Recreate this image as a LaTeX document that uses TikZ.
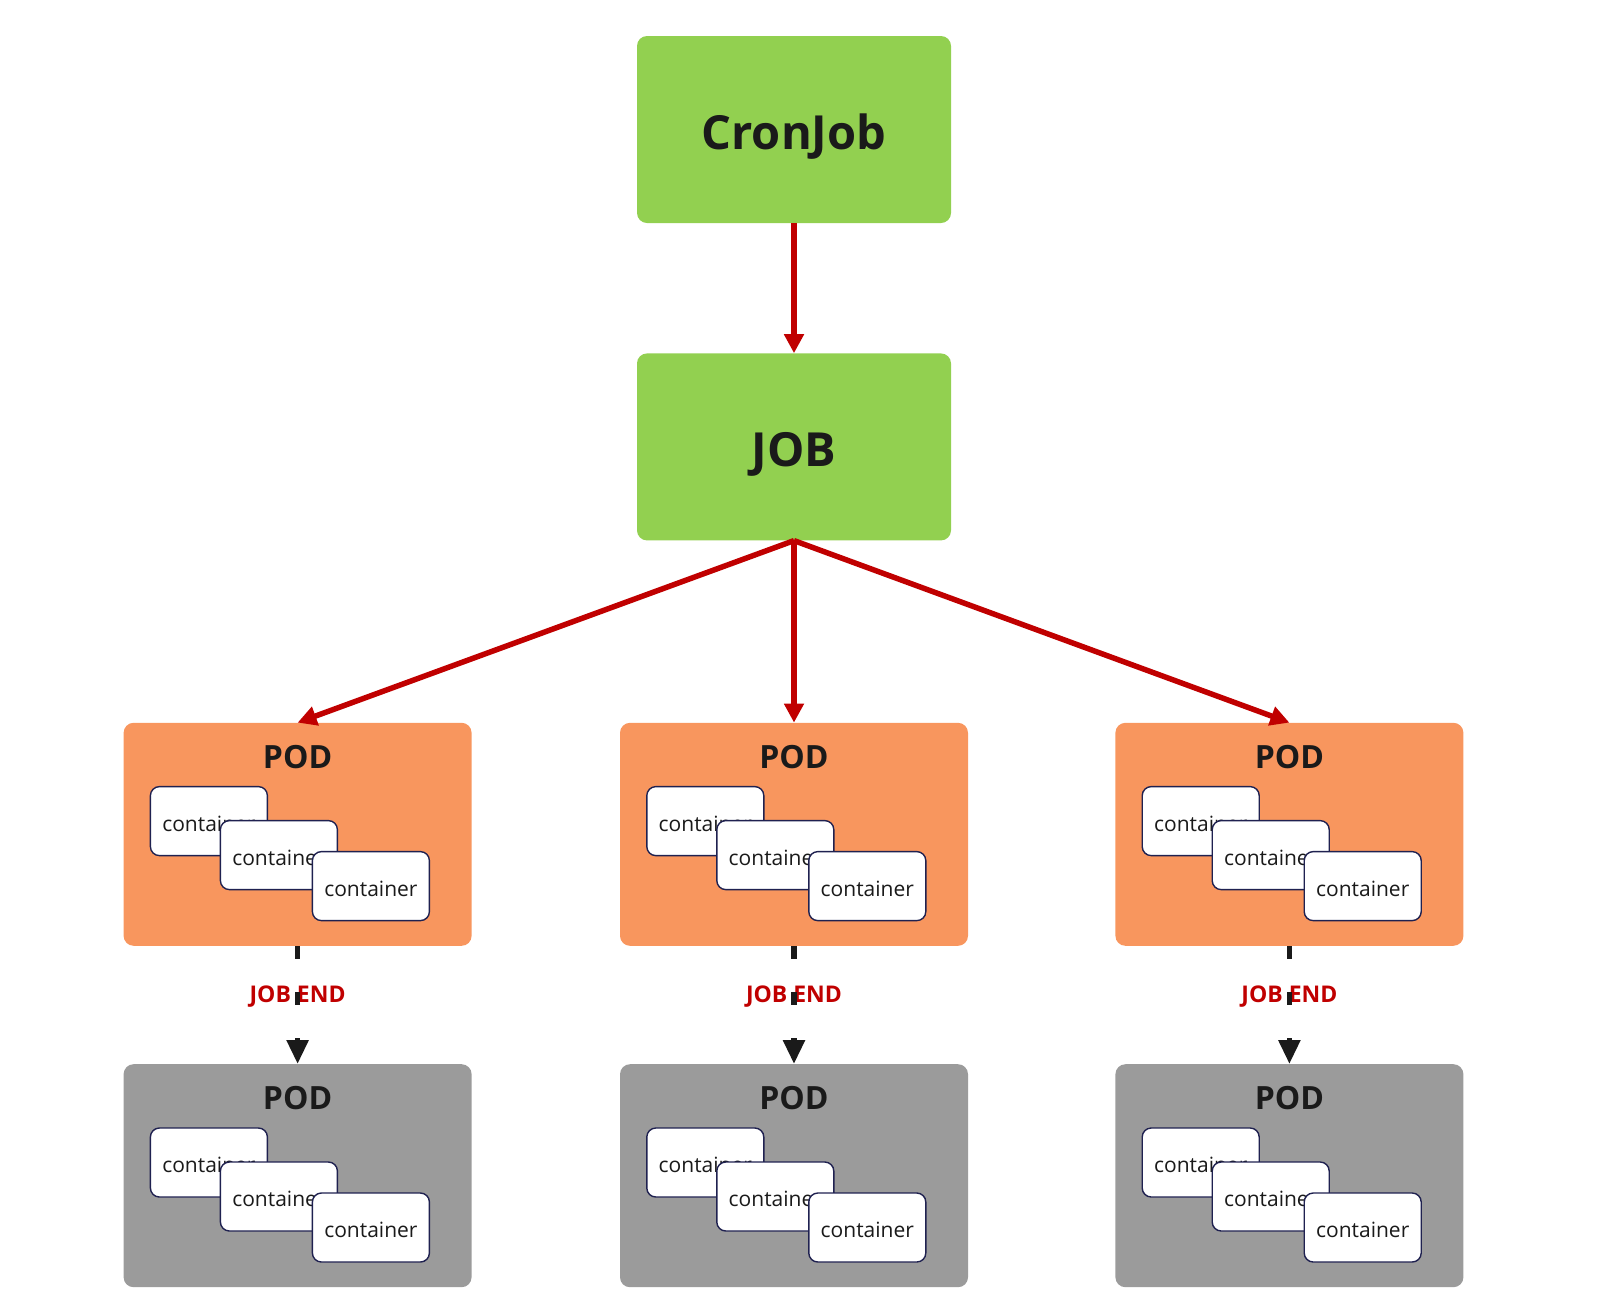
\documentclass[tikz,border=0pt]{standalone}
\usepackage{fontspec}
\setmainfont{Open Sans}
\usetikzlibrary{positioning}
\usetikzlibrary{arrows.meta}

\definecolor{jobgreen}{HTML}{92D050}
\definecolor{podorange}{HTML}{F8965E}
\definecolor{podgray}{HTML}{9B9B9B}
\definecolor{jobred}{HTML}{C00000}
\definecolor{inkdark}{HTML}{1A1A1A}
\definecolor{ctrline}{HTML}{1F2150}

\tikzset{
  bigbox/.style={rounded corners=10pt,fill=jobgreen,minimum width=314pt,minimum height=187pt,inner sep=0pt,
    text height=40pt,text depth=0pt,text=inkdark,font=\fontsize{47}{56}\selectfont\bfseries},
  podbox/.style={rounded corners=10pt,fill=podorange,minimum width=348pt,minimum height=223pt,inner sep=0pt},
  donebox/.style={podbox,fill=podgray},
  podtitle/.style={inner sep=0pt,text=inkdark,font=\fontsize{32}{38}\selectfont\bfseries},
  ctr/.style={draw=ctrline,line width=1.4pt,fill=white,rounded corners=9pt,minimum width=117pt,minimum height=69pt,
    inner sep=0pt,text height=20pt,text depth=0pt,text=inkdark,font=\fontsize{21}{25}\selectfont},
  spawn/.style={draw=jobred,line width=5.5pt,-{Triangle[length=19pt,width=19pt]}},
  endline/.style={draw=inkdark,line width=5.5pt,dash pattern=on 13pt off 33pt,-{Triangle[length=24pt,width=21pt]}},
  endlabel/.style={inner sep=0pt,text=jobred,font=\fontsize{23}{27}\selectfont\bfseries}
}

\begin{document}
\begin{tikzpicture}[x=1pt,y=1pt]
  \useasboundingbox (0,0) rectangle (1606,-1310);

  \node[bigbox] (cron) at (794,-129.5) {CronJob};
  \node[bigbox,below=130pt of cron] (job) {JOB};

  \node[podbox,below=182pt of job] (pod2) {};
  \node[podbox,left=148pt of pod2] (pod1) {};
  \node[podbox,right=147pt of pod2] (pod3) {};

  \node[donebox,below=118pt of pod1] (end1) {};
  \node[donebox,below=118pt of pod2] (end2) {};
  \node[donebox,below=118pt of pod3] (end3) {};

  % pod contents
  \foreach \p in {pod1,pod2,pod3,end1,end2,end3} {
    \node[podtitle] (\p t) at ([yshift=-34pt]\p.north) {POD};
    \node[ctr] (\p c1) at ([shift={(85.5,-98.5)}]\p.north west) {container};
    \node[ctr] (\p c2) at ([shift={(155.5,-132.5)}]\p.north west) {container};
    \node[ctr] (\p c3) at ([shift={(247.5,-163.5)}]\p.north west) {container};
  }

  \draw[spawn] (cron) -- (job);
  \draw[spawn] (job.south) -- (pod1.north);
  \draw[spawn] (job.south) -- (pod2.north);
  \draw[spawn] (job.south) -- (pod3.north);

  \node[endlabel] (lbl1) at ([yshift=-51pt]pod1.south) {JOB END};
  \node[endlabel] (lbl2) at ([yshift=-51pt]pod2.south) {JOB END};
  \node[endlabel] (lbl3) at ([yshift=-51pt]pod3.south) {JOB END};

  \draw[endline] (pod1) -- (end1);
  \draw[endline] (pod2) -- (end2);
  \draw[endline] (pod3) -- (end3);
\end{tikzpicture}
\end{document}
